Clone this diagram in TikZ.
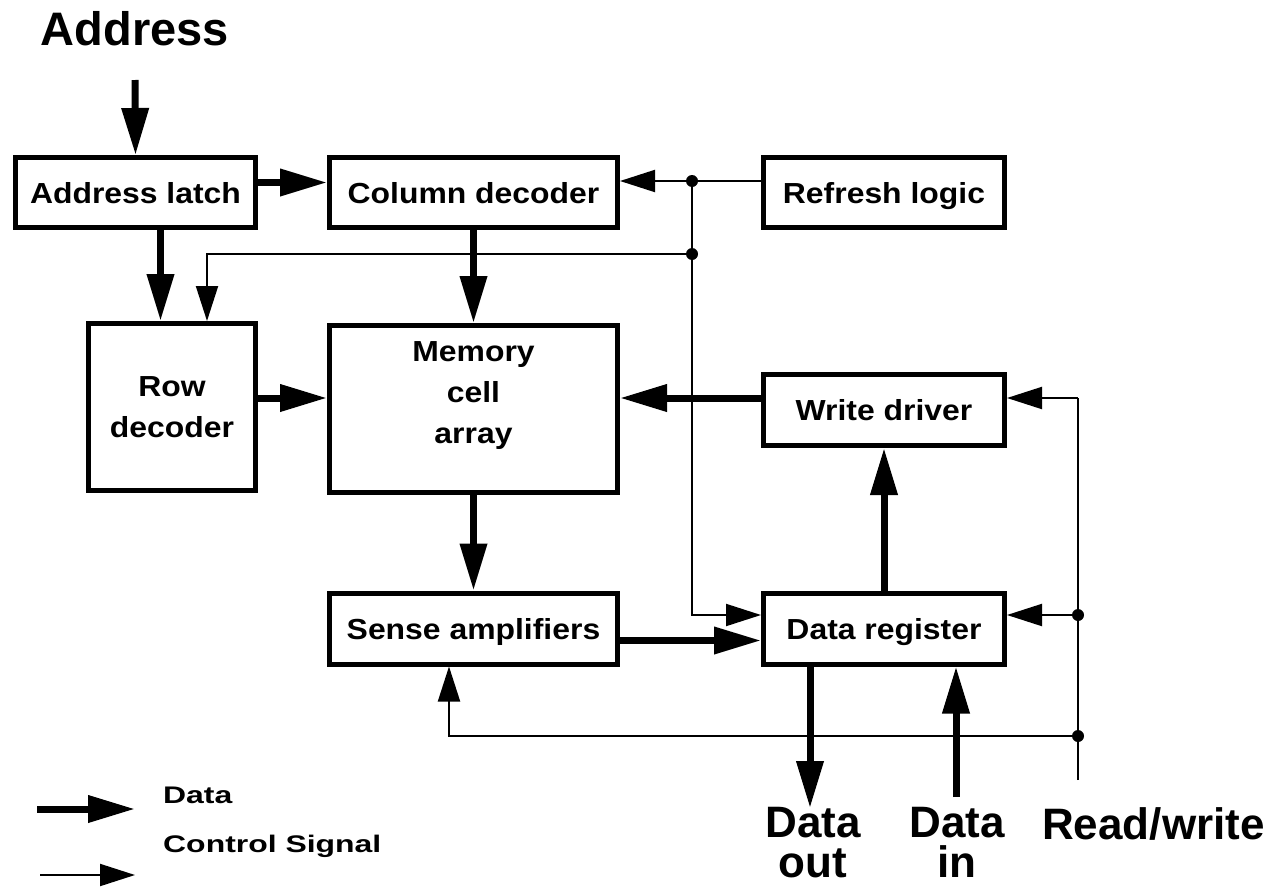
\documentclass[tikz,border=0pt]{standalone}
\usepackage{fontspec}
\setmainfont{Liberation Sans}
\newfontfamily\boxfont[FakeStretch=1.1]{Liberation Sans}
\newfontfamily\keyfont[FakeStretch=1.33]{Liberation Sans}
\usetikzlibrary{arrows.meta,positioning}
\tikzset{
  block/.style={draw, rectangle, line width=5pt, inner sep=0pt, align=center, font=\boxfont\fontsize{29}{41}\selectfont\bfseries},
  oneline/.style={text height=21pt, text depth=0pt},
  datapath/.style={line width=7pt, -{Triangle[length=47pt,width=26pt]}},
  ctrlpath/.style={line width=2pt, -{Triangle[length=35pt,width=22pt]}},
  junction/.style={circle, fill, inner sep=0pt, minimum size=12pt},
  biglabel/.style={align=center, inner sep=0pt, font=\fontsize{44}{40}\selectfont\bfseries},
  keylabel/.style={anchor=west, inner sep=0pt, font=\keyfont\fontsize{24}{28}\selectfont\bfseries}
}
\begin{document}
\begin{tikzpicture}[x=1pt,y=-1pt]
\useasboundingbox (0,0) rectangle (1286,889);
% blocks
\node (latch) [block, oneline, minimum width=240pt, minimum height=70pt] at (135.5,192.5) {Address latch};
\node (coldec) [block, oneline, minimum width=288pt, minimum height=70pt, right of=latch, node distance=338pt] {Column decoder};
\node (refresh) [block, oneline, minimum width=241pt, minimum height=70pt, right of=coldec, node distance=410.5pt] {Refresh logic};
\node (rowdec) [block, minimum width=167pt, minimum height=167pt] at (172,407) {Row\\decoder};
\node (memory) [block, minimum width=288pt, minimum height=167pt, below of=coldec, node distance=216.5pt] {};
\node (memlabel) [align=center, font=\boxfont\fontsize{29}{41}\selectfont\bfseries] at ([yshift=13pt]memory.center) {Memory\\cell\\array};
\node (wdriver) [block, oneline, minimum width=241pt, minimum height=71pt] at (884,410) {Write driver};
\node (sense) [block, oneline, minimum width=288pt, minimum height=71pt, below of=memory, node distance=219.5pt] {Sense amplifiers};
\node (dreg) [block, oneline, minimum width=241pt, minimum height=71pt, right of=sense, node distance=410.5pt] {Data register};
% outside labels
\node (addr) [biglabel, font=\fontsize{47}{47}\selectfont\bfseries] at (135,29) {Address};
\node (dataout) [biglabel, anchor=north] at (813,807) {Data\\out};
\node (datain) [biglabel, anchor=north] at (957,807) {Data\\in};
\node (rw) [biglabel, anchor=north west] at (1042,807) {Read/write};
\coordinate (addrin) at (135,80);
\coordinate (doutend) at (810,808);
\coordinate (dinstart) at (956,797);
\coordinate (rwbottom) at (1078,780);
\coordinate (rwtop) at (1078,398);
% data paths
\draw [datapath] (addrin) -- (latch.north);
\draw [datapath] ([yshift=10pt]latch.east) -- ([yshift=10pt]coldec.west);
\draw [datapath] ([xshift=25pt]latch.south) -- ([xshift=25pt]latch.south |- rowdec.north);
\draw [datapath] (coldec.south) -- (memory.north);
\draw [datapath] ([yshift=9pt]rowdec.east) -- ([yshift=9pt]rowdec.east -| memory.west);
\draw [datapath] ([yshift=12pt]wdriver.west) -- ([yshift=12pt]wdriver.west -| memory.east);
\draw [datapath] (memory.south) -- (sense.north);
\draw [datapath] ([yshift=-12pt]sense.east) -- ([yshift=-12pt]sense.east -| dreg.west);
\draw [datapath] (dreg.north) -- (wdriver.south);
\draw [datapath] (dreg.south -| doutend) -- (doutend);
\draw [datapath] (dinstart) -- (dinstart |- dreg.south);
% control signals
\node (refj) [junction] at (692,181) {};
\node (rowj) [junction] at (692,254) {};
\node (regj) [junction] at (1078,615) {};
\node (sensej) [junction] at (1078,736) {};
\draw [line width=2pt] (refresh.west |- refj) -- (refj);
\draw [ctrlpath] (refj) -- (refj -| coldec.east);
\draw [ctrlpath] (refj.center) -- (refj |- regj) -- (regj -| dreg.west);
\draw [ctrlpath] (rowj.center) -- (207,254) -- (207,254 |- rowdec.north);
\draw [line width=2pt] (rwbottom) -- (rwtop);
\draw [ctrlpath] (rwtop) -- (rwtop -| wdriver.east);
\draw [ctrlpath] (regj) -- (regj -| dreg.east);
\draw [ctrlpath] (sensej.center) -- (449,736) -- (449,736 |- sense.south);
% key
\coordinate (datakey) at (37,809);
\coordinate (ctrlkey) at (40,875);
\draw [datapath] (datakey) -- ++(98,0);
\draw [ctrlpath] (ctrlkey) -- ++(95,0);
\node (datakeytext) [keylabel] at (163,795) {Data};
\node (ctrlkeytext) [keylabel] at (163,846) {Control Signal};
\end{tikzpicture}
\end{document}
